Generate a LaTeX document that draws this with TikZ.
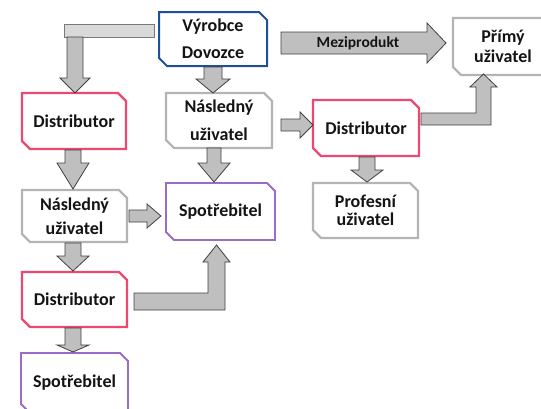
\documentclass[tikz,border=0pt]{standalone}
\usepackage{fontspec}
\setmainfont{Carlito}
\definecolor{bblue}{HTML}{1F5096}
\definecolor{bpink}{HTML}{EC4870}
\definecolor{bgray}{HTML}{B4B4B4}
\definecolor{bpurple}{HTML}{9A6BC8}
\definecolor{afill}{HTML}{BFBFBF}
\definecolor{aline}{HTML}{404040}
\definecolor{barfill}{HTML}{D9D9D9}
\definecolor{txt}{HTML}{141414}
\tikzset{
  boxtext/.style={font=\bfseries\fontsize{18}{20}\selectfont, text=txt, align=center, inner sep=0pt},
  bluebox/.style={draw=bblue, line width=2pt, fill=white, line join=miter},
  pinkbox/.style={draw=bpink, line width=2.2pt, fill=white, line join=miter},
  graybox/.style={draw=bgray, line width=2.2pt, fill=white, line join=miter},
  purplebox/.style={draw=bpurple, line width=1.8pt, fill=white, line join=miter},
  blk/.style={fill=afill, draw=aline, line width=0.8pt, line join=miter},
  barstyle/.style={fill=barfill, draw=aline!70, line width=0.8pt},
}
% name, x1, y1, x2, y2, style, text
\newcommand\CutBox[7]{%
  \draw[#6] (#2,#3) -- (#4-8,#3) -- (#4,#3+8) -- (#4,#5) -- (#2+8,#5) -- (#2,#5-8) -- cycle;
  \node[boxtext] (#1) at ({(#2+#4)/2},{(#3+#5)/2}) {#7};
}
% down arrow: cx, y0, head base, tip, shaft half width, head half width
\newcommand\DArr[6]{%
  \draw[blk] (#1-#5,#2) -- (#1+#5,#2) -- (#1+#5,#3) -- (#1+#6,#3) -- (#1,#4) -- (#1-#6,#3) -- (#1-#5,#3) -- cycle;
}
% right arrow: cy, x0, head base, tip, shaft half width, head half width
\newcommand\RArr[6]{%
  \draw[blk] (#2,#1-#5) -- (#3,#1-#5) -- (#3,#1-#6) -- (#4,#1) -- (#3,#1+#6) -- (#3,#1+#5) -- (#2,#1+#5) -- cycle;
}
\begin{document}
\begin{tikzpicture}[x=1pt,y=-1pt]
\useasboundingbox (0,0) rectangle (541,408);
% boxes
\CutBox{vyr}{159}{12}{267}{66}{bluebox}{Výrobce\\[7pt]Dovozce}
\CutBox{nas1}{166}{93}{272}{148}{graybox}{Následný\\[8pt]uživatel}
\CutBox{dis1}{22}{93}{126}{149}{pinkbox}{Distributor}
\CutBox{nas2}{22}{190}{127}{242}{graybox}{Následný\\[4pt]uživatel}
\CutBox{spo1}{166}{183}{275}{240}{purplebox}{Spotřebitel}
\CutBox{dis2}{22}{272}{127}{327}{pinkbox}{Distributor}
\CutBox{spo2}{21}{353}{128}{412}{purplebox}{Spotřebitel}
\CutBox{dis3}{313}{100}{419}{156}{pinkbox}{Distributor}
\CutBox{pro}{313}{183}{418}{238}{graybox}{Profesní\\[-2pt]uživatel}
\CutBox{pri}{453}{18}{553}{75}{graybox}{Přímý\\[0pt]uživatel}
% top-left bar and arrow
\draw[barstyle] (64,24) rectangle (154,37);
\DArr{75}{37}{78}{93}{8}{15}
% straight down arrows
\DArr{213}{67}{79}{93}{9}{17}
\DArr{214}{148}{163}{182}{7}{16}
\DArr{73}{150}{163}{189}{8}{16}
\DArr{73}{243}{256}{271}{8}{16}
\DArr{73}{328}{345}{352}{8}{16}
\DArr{367}{157}{170}{182}{8}{16}
% right arrows
\RArr{125}{281}{300}{313}{6}{13}
\RArr{216}{129}{147}{161}{6}{12}
\RArr{43}{281}{427}{446}{11}{20}
\node[boxtext, font=\bfseries\fontsize{15.5}{17}\selectfont] (mezi) at (358,43) {Meziprodukt};
% L-shaped arrows
\draw[blk] (421,113) -- (476,113) -- (476,87) -- (470,87) -- (483.5,74) -- (497,87) -- (491,87) -- (491,125) -- (421,125) -- cycle;
\draw[blk] (134,293) -- (208,293) -- (208,262) -- (203,262) -- (216.5,245) -- (230,262) -- (225,262) -- (225,310) -- (134,310) -- cycle;
\end{tikzpicture}
\end{document}
